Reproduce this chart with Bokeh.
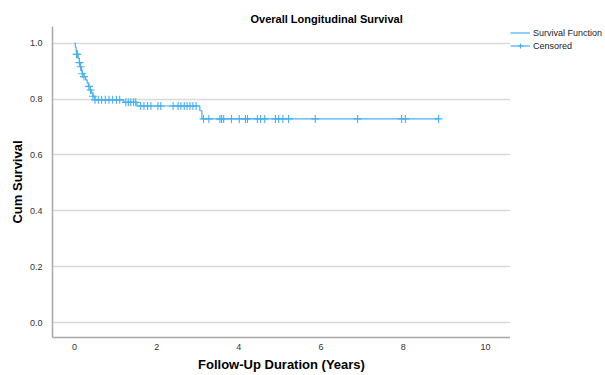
import numpy as np
from bokeh.plotting import figure
from bokeh.layouts import row
from bokeh.models import (Range1d, FixedTicker, PrintfTickFormatter,
                          Legend, LegendItem, ColumnDataSource)
from bokeh.embed import file_html
from bokeh.resources import INLINE

# ---- data ----
step_times = [0.0, 0.02, 0.04, 0.05, 0.09, 0.12, 0.14, 0.17, 0.19, 0.23, 0.27,
              0.31, 0.34, 0.38, 0.42, 0.45, 0.49, 1.20, 1.52, 3.05, 3.10]
survival = [1.000, 0.985, 0.970, 0.960, 0.945, 0.930, 0.915, 0.900, 0.890, 0.880,
            0.868, 0.857, 0.845, 0.832, 0.820, 0.810, 0.797, 0.788, 0.775, 0.758, 0.729]
max_followup = 8.86

censored_times = [0.05, 0.07, 0.12, 0.15, 0.19, 0.23, 0.35, 0.39, 0.45, 0.50,
                  0.58, 0.66, 0.75, 0.84, 0.93, 1.02, 1.10,
                  1.25, 1.31, 1.37, 1.44, 1.49,
                  1.61, 1.69, 1.78, 1.86, 2.03, 2.10, 2.40, 2.52, 2.59, 2.67, 2.74,
                  2.81, 2.88, 2.96,
                  3.14, 3.27, 3.54, 3.58, 3.63, 3.82, 4.01, 4.16, 4.21, 4.45, 4.53,
                  4.63, 4.89, 4.97, 5.07, 5.21, 5.86, 6.89, 7.96, 8.05, 8.86]

x_ticks = [0, 2, 4, 6, 8, 10]
y_ticks = [0.0, 0.2, 0.4, 0.6, 0.8, 1.0]

title_text = "Overall Longitudinal Survival"
x_label = "Follow-Up Duration (Years)"
y_label = "Cum Survival"
legend_labels = ["Survival Function", "Censored"]

COLOR = "#45b0f0"
FONT = "Liberation Sans"

# step-function lookup for censor marks
idx = np.searchsorted(np.array(step_times), np.array(censored_times), side="right") - 1
cens_y = [survival[i] for i in idx]

p = figure(width=510, height=375, output_backend="svg", toolbar_location=None,
           x_range=Range1d(-0.535, 10.61), y_range=Range1d(-0.052, 1.059),
           min_border_left=52, min_border_right=0, min_border_top=26,
           min_border_bottom=38)
p.outline_line_color = None
p.background_fill_color = "white"

p.title.text = title_text
p.title.text_font = FONT
p.title.text_font_size = "11px"
p.title.text_font_style = "bold"
p.title.text_color = "black"
p.title.align = "left"
p.title.offset = 198
p.title.standoff = 4

src_step = ColumnDataSource(dict(x=step_times + [max_followup],
                                 y=survival + [survival[-1]]))
r_step = p.step("x", "y", source=src_step, mode="after", line_color=COLOR,
                line_width=1.2)
src_c = ColumnDataSource(dict(x=censored_times, y=cens_y))
r_cens = p.scatter("x", "y", source=src_c, marker="cross", size=8,
                   line_color=COLOR, line_width=1.1)

# axes
p.xaxis.ticker = FixedTicker(ticks=x_ticks)
p.yaxis.ticker = FixedTicker(ticks=y_ticks)
p.yaxis.formatter = PrintfTickFormatter(format="%.1f")
for ax in (p.xaxis[0], p.yaxis[0]):
    ax.axis_line_color = "#a8a8a8"
    ax.axis_line_width = 1.5
    ax.major_tick_line_color = None
    ax.minor_tick_line_color = None
    ax.major_label_text_font = FONT
    ax.major_label_text_font_size = "9px"
    ax.major_label_text_color = "#333333"
    ax.axis_label_text_font = FONT
    ax.axis_label_text_font_size = "13px"
    ax.axis_label_text_font_style = "bold"
    ax.axis_label_text_color = "black"
p.xaxis.major_label_standoff = 0
p.yaxis.major_label_standoff = 4
p.yaxis.axis_label = y_label
p.yaxis.axis_label_standoff = 2
p.xaxis.axis_label = x_label
p.xaxis.axis_label_standoff = 4

p.xgrid.grid_line_color = None
p.ygrid.grid_line_color = "#d9d9d9"
p.ygrid.grid_line_width = 1.5

# legend panel (separate figure at the right; its ranges show no data)
pl = figure(width=95, height=375, output_backend="svg", toolbar_location=None,
            x_range=Range1d(100, 101), y_range=Range1d(100, 101),
            min_border_left=0, min_border_right=0, min_border_top=26,
            min_border_bottom=0)
pl.axis.visible = False
pl.grid.grid_line_color = None
pl.outline_line_color = None
g_step = pl.step("x", "y", source=src_step, mode="after", line_color=COLOR,
                 line_width=1.2)
g_line = pl.line("x", "y", source=src_c, line_color=COLOR, line_width=1.2)
g_cross = pl.scatter("x", "y", source=src_c, marker="cross", size=8,
                     line_color=COLOR, line_width=1.1)
legend = Legend(items=[LegendItem(label=legend_labels[0], renderers=[g_step]),
                       LegendItem(label=legend_labels[1], renderers=[g_line, g_cross])],
                location="top_left", padding=0, margin=0, spacing=0,
                glyph_width=20, glyph_height=13, label_height=13,
                label_standoff=3, label_text_font=FONT,
                label_text_font_size="9px", label_text_color="#222222",
                background_fill_alpha=0, border_line_color=None)
pl.add_layout(legend)

layout = row(p, pl, spacing=0)
open("out.html", "w").write(file_html(layout, INLINE))
